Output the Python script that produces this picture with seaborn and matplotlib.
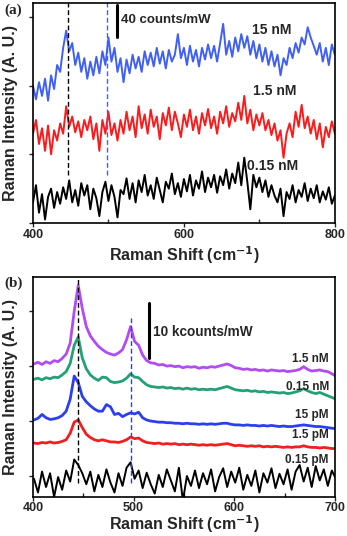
import numpy as np
import pandas as pd
import seaborn as sns
import matplotlib.pyplot as plt
from matplotlib.ticker import MultipleLocator

# ---- panel (a): 400-800 cm-1, step 4 ----
shift_a = np.arange(400, 801, 4)

nm_015 = [0.30, 0.55, 0.15, 0.42, 0.05, 0.38, 0.50, 0.22, 0.45, 0.28,
          0.52, 0.35, 0.62, 0.30, 0.48, 0.25, 0.58, 0.40, 0.55, 0.20,
          0.50, 0.36, 0.10, 0.45, 0.60, 0.32, 0.55, 0.38, 0.08, 0.48,
          0.42, 0.65, 0.35, 0.58, 0.30, 0.62, 0.45, 0.70, 0.40, 0.55,
          0.35, 0.66, 0.48, 0.30, 0.60, 0.50, 0.72, 0.42, 0.58, 0.38,
          0.64, 0.46, 0.70, 0.40, 0.62, 0.50, 0.75, 0.45, 0.66, 0.52,
          0.70, 0.44, 0.68, 0.55, 0.78, 0.50, 0.72, 0.58, 0.88, 0.55,
          0.95, 0.60, 0.20, 0.70, 0.52, 0.66, 0.45, 0.62, 0.38, 0.55,
          0.40, 0.30, 0.50, 0.10, 0.45, 0.35, 0.55, 0.30, 0.48, 0.38,
          0.58, 0.32, 0.50, 0.36, 0.55, 0.30, 0.46, 0.34, 0.52, 0.28,
          0.40]

nm_15 = [1.30, 1.50, 1.15, 1.38, 1.05, 1.42, 1.00, 1.35, 1.20, 1.45,
         1.30, 1.70, 1.40, 1.55, 1.32, 1.48, 1.25, 1.50, 1.35, 1.55,
         1.22, 1.45, 1.05, 1.50, 1.30, 1.62, 1.28, 1.45, 1.20, 1.50,
         1.30, 1.62, 1.35, 1.55, 1.25, 1.70, 1.38, 1.58, 1.30, 1.65,
         1.40, 1.55, 1.22, 1.60, 1.42, 1.68, 1.35, 1.62, 1.45, 1.25,
         1.58, 1.40, 1.65, 1.35, 1.55, 1.30, 1.60, 1.42, 1.66, 1.38,
         1.55, 1.30, 1.62, 1.45, 1.70, 1.40, 1.60, 1.48, 1.75, 1.50,
         1.85, 1.45, 1.65, 1.35, 1.58, 1.42, 1.60, 1.35, 1.50, 1.28,
         1.45, 1.20, 1.35, 0.95, 1.30, 1.45, 1.25, 1.62, 1.40, 1.72,
         1.38, 1.55, 1.30, 1.50, 1.22, 1.45, 1.10, 1.40, 1.25, 1.48,
         1.30]

nm_150 = [2.00, 1.80, 2.05, 1.85, 2.10, 1.78, 2.15, 1.95, 2.30, 2.20,
          2.55, 2.80, 2.50, 2.62, 2.30, 2.48, 2.20, 2.40, 2.10, 2.35,
          2.15, 2.42, 2.18, 2.50, 2.30, 2.70, 2.35, 2.55, 2.20, 2.40,
          2.05, 2.38, 2.18, 2.45, 2.25, 2.42, 2.20, 2.50, 2.30, 2.48,
          2.28, 2.55, 2.32, 2.50, 2.25, 2.52, 2.35, 2.45, 2.75, 2.40,
          2.55, 2.30, 2.58, 2.35, 2.52, 2.28, 2.55, 2.38, 2.60, 2.40,
          2.58, 2.35, 2.62, 2.90, 2.45, 2.65, 2.42, 2.70, 2.50, 2.75,
          2.55, 2.72, 2.45, 2.65, 2.40, 2.60, 2.35, 2.55, 2.30, 2.50,
          2.28, 2.45, 2.15, 2.40, 2.30, 2.55, 2.40, 2.62, 2.48, 2.70,
          2.60, 2.85, 2.70, 2.58, 2.45, 2.62, 2.35, 2.55, 2.30, 2.60,
          2.45]

labels_a = ["0.15 nM", "1.5 nM", "15 nM"]
colors_a = ["black", "#fa1c1c", "#4060f5"]
label_pos_a = [(683, 0.83), (691, 1.92), (690, 2.81)]

# ---- panel (b): 401-701 cm-1, step 4 ----
shift_b = np.arange(401, 702, 4)

pm_015 = [-0.05, -0.30, 0.08, -0.20, 0.05, -0.38, -0.02, -0.25, 0.10, -0.10,
          0.30, 0.20, 0.05, -0.15, 0.08, -0.28, 0.02, -0.20, 0.12, -0.12,
          -0.30, 0.05, -0.18, 0.15, 0.25, -0.05, 0.10, -0.22, 0.06, -0.15,
          -0.32, 0.02, -0.20, 0.12, -0.08, -0.28, 0.15, -0.45, 0.00, -0.18,
          0.10, -0.22, 0.05, -0.15, 0.12, -0.28, -0.02, 0.14, -0.20, 0.08,
          -0.12, 0.15, -0.25, 0.02, -0.18, 0.10, -0.30, 0.05, -0.12, 0.14,
          -0.22, 0.04, -0.15, 0.12, -0.25, 0.08, 0.20, -0.10, 0.15, -0.20,
          0.18, -0.08, 0.12, -0.18, 0.10, -0.05]

pm_15 = [0.60, 0.59, 0.61, 0.60, 0.62, 0.60, 0.61, 0.63, 0.66, 0.78,
         0.98, 1.02, 0.88, 0.76, 0.70, 0.66, 0.64, 0.66, 0.64, 0.62,
         0.62, 0.61, 0.63, 0.66, 0.71, 0.68, 0.69, 0.64, 0.61, 0.60,
         0.59, 0.60, 0.58, 0.59, 0.58, 0.59, 0.57, 0.58, 0.57, 0.58,
         0.57, 0.56, 0.57, 0.56, 0.57, 0.56, 0.57, 0.58, 0.59, 0.57,
         0.55, 0.56, 0.55, 0.54, 0.55, 0.54, 0.55, 0.53, 0.54, 0.53,
         0.54, 0.53, 0.52, 0.53, 0.52, 0.53, 0.53, 0.55, 0.53, 0.52,
         0.52, 0.51, 0.52, 0.51, 0.50, 0.50]

pm_150 = [1.02, 1.05, 1.12, 1.06, 1.03, 1.04, 1.06, 1.10, 1.18, 1.40,
          1.82, 1.70, 1.45, 1.35, 1.28, 1.22, 1.18, 1.18, 1.30, 1.26,
          1.12, 1.14, 1.08, 1.12, 1.15, 1.13, 1.16, 1.06, 1.02, 1.00,
          0.99, 0.98, 0.98, 0.97, 0.97, 0.96, 0.96, 0.95, 0.96, 0.95,
          0.95, 0.94, 0.95, 0.94, 0.95, 0.94, 0.95, 0.96, 0.96, 0.94,
          0.93, 0.93, 0.92, 0.93, 0.92, 0.92, 0.91, 0.92, 0.91, 0.92,
          0.91, 0.90, 0.91, 0.90, 0.90, 0.91, 0.92, 0.93, 0.92, 0.91,
          0.90, 0.90, 0.89, 0.88, 0.87, 0.86]

nm_015_b = [1.76, 1.78, 1.75, 1.79, 1.77, 1.80, 1.79, 1.84, 1.90, 2.05,
            2.38, 2.53, 2.15, 1.95, 1.84, 1.78, 1.74, 1.80, 1.79, 1.72,
            1.70, 1.71, 1.73, 1.78, 1.86, 1.80, 1.79, 1.72, 1.66, 1.63,
            1.62, 1.61, 1.62, 1.60, 1.61, 1.59, 1.60, 1.58, 1.60, 1.58,
            1.59, 1.57, 1.58, 1.57, 1.58, 1.57, 1.59, 1.61, 1.63, 1.60,
            1.57, 1.56, 1.55, 1.56, 1.54, 1.55, 1.53, 1.54, 1.52, 1.53,
            1.52, 1.51, 1.52, 1.50, 1.51, 1.53, 1.55, 1.59, 1.55, 1.52,
            1.50, 1.52, 1.49, 1.46, 1.43, 1.40]

nm_15_b = [2.04, 2.07, 2.03, 2.08, 2.05, 2.10, 2.08, 2.14, 2.22, 2.42,
           3.00, 3.47, 3.05, 2.72, 2.55, 2.45, 2.36, 2.30, 2.25, 2.22,
           2.20, 2.24, 2.30, 2.48, 2.72, 2.45, 2.38, 2.20, 2.10, 2.06,
           2.05, 2.02, 2.03, 2.00, 2.01, 1.99, 2.00, 1.97, 1.99, 1.98,
           1.99, 1.96, 1.98, 1.97, 1.99, 1.98, 2.00, 2.02, 2.04, 2.01,
           1.97, 1.96, 1.94, 1.95, 1.93, 1.94, 1.92, 1.93, 1.91, 1.93,
           1.92, 1.91, 1.92, 1.90, 1.91, 1.92, 1.94, 1.99, 1.94, 1.91,
           1.92, 1.93, 1.91, 1.90, 1.86, 1.82]

labels_b = ["0.15 pM", "1.5 pM", "15 pM", "0.15 nM", "1.5 nM"]
colors_b = ["black", "#f41e1e", "#2c3ff0", "#22a078", "#b04cf0"]
label_y_b = [0.29, 0.75, 1.11, 1.62, 2.13]

sns.set_theme(style="ticks")
plt.rcParams["font.family"] = ["Liberation Sans", "DejaVu Sans"]
plt.rcParams["font.weight"] = "bold"
plt.rcParams["mathtext.default"] = "bf"

fig = plt.figure(figsize=(3.47, 5.36), dpi=100)
ax_a = fig.add_axes([0.095, 0.584, 0.870, 0.410])
ax_b = fig.add_axes([0.095, 0.073, 0.870, 0.410])

# panel a
for vals, c in zip([nm_015, nm_15, nm_150], colors_a):
    sns.lineplot(x=shift_a, y=vals, color=c, lw=1.4, ax=ax_a, sort=False)
ax_a.plot([446, 446], [0.70, 3.2], ls=(0, (3.5, 2)), color="black", lw=1.0)
ax_a.plot([498, 498], [0.70, 3.2], ls=(0, (3.5, 2)), color="#4060f5", lw=1.0)
ax_a.plot([512, 512], [2.71, 3.17], color="black", lw=2.2)
ax_a.text(516, 2.96, "40 counts/mW", fontsize=9.5, fontweight="bold", va="center")
for lab, (xx, yy) in zip(labels_a, label_pos_a):
    ax_a.text(xx, yy, lab, fontsize=10, fontweight="bold", va="center")
ax_a.set_xlim(400, 800)
ax_a.set_ylim(0, 3.2)
ax_a.xaxis.set_major_locator(MultipleLocator(200))
ax_a.xaxis.set_minor_locator(MultipleLocator(100))
ax_a.xaxis.set_label_coords(0.5, -0.095)

# panel b
for vals, c in zip([pm_015, pm_15, pm_150, nm_015_b, nm_15_b], colors_b):
    sns.lineplot(x=shift_b, y=vals, color=c, lw=1.4 if c == "black" else 2.0,
                 ax=ax_b, sort=False)
ax_b.plot([445, 445], [-0.13, 3.62], ls=(0, (3.5, 2)), color="black", lw=1.0)
ax_b.plot([497, 497], [-0.13, 2.87], ls=(0, (3.5, 2)), color="#2c3ff0", lw=1.0)
ax_b.plot([515, 515], [2.15, 3.15], color="black", lw=2.2)
ax_b.text(519, 2.62, "10 kcounts/mW", fontsize=9.8, fontweight="bold", va="center")
for lab, yy in zip(labels_b, label_y_b):
    ax_b.text(694, yy, lab, fontsize=8.5, fontweight="bold", va="center", ha="right")
ax_b.set_xlim(400, 700)
ax_b.set_ylim(-0.38, 3.62)
ax_b.xaxis.set_major_locator(MultipleLocator(100))
ax_b.xaxis.set_minor_locator(MultipleLocator(50))
ax_b.xaxis.set_label_coords(0.5, -0.075)

for ax, tag in [(ax_a, "(a)"), (ax_b, "(b)")]:
    ax.yaxis.set_major_locator(MultipleLocator(1))
    ax.set_yticklabels([])
    ax.tick_params(axis="both", which="major", direction="out", length=3,
                   width=1.0, pad=1, labelsize=9)
    ax.tick_params(axis="x", which="minor", direction="in", length=3, width=1.0)
    for lbl in ax.get_xticklabels():
        lbl.set_fontweight("bold")
    for s in ax.spines.values():
        s.set_linewidth(1.2)
        s.set_color("black")
    ax.set_xlabel(r"Raman Shift (cm$^{-1}$)", fontsize=11.5, fontweight="bold")
    ax.set_ylabel("Raman Intensity (A. U.)", fontsize=11.5, fontweight="bold")
    ax.yaxis.set_label_coords(-0.05, 0.5)
    ax.text(-0.095, 0.97, tag, transform=ax.transAxes, fontsize=11, fontweight="bold",
            family=["Liberation Serif", "DejaVu Serif"], va="center", ha="left")

fig.savefig("out.png", dpi=100)
